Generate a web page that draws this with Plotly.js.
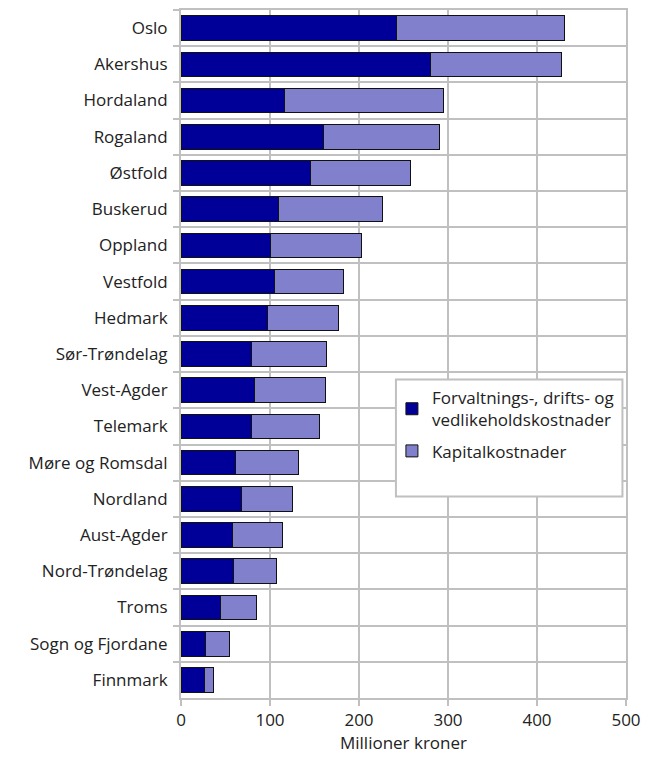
<!DOCTYPE html>
<html>
<head>
<meta charset="utf-8">
<script src="https://cdn.plot.ly/plotly-3.0.1.min.js"></script>
<style>html,body{margin:0;padding:0;background:#fff;}#chart{width:658px;height:777px;}</style>
</head>
<body>
<div id="chart"></div>
<script>
const fylker = ["Oslo","Akershus","Hordaland","Rogaland","Østfold","Buskerud","Oppland","Vestfold","Hedmark","Sør-Trøndelag","Vest-Agder","Telemark","Møre og Romsdal","Nordland","Aust-Agder","Nord-Trøndelag","Troms","Sogn og Fjordane","Finnmark"];
const forvaltning = [242,280,116,160,145,109,100,105,97,79,83,79,61,68,58,59,44,28,26];
const kapital = [189,148,179,131,113,117,103,78,80,84,79,77,71,57,56,48,41,26,11];
const seriesNames = ["Forvaltnings-, drifts- og<br>vedlikeholdskostnader","Kapitalkostnader"];
const xTicks = [0,100,200,300,400,500];

const grid = "#c0c0c0";
const font = {family: "Open Sans, Noto Sans, sans-serif", size: 17, color: "#222"};

const traces = [
  {type:"bar", orientation:"h", y: fylker, x: forvaltning, name: seriesNames[0], legendgroup:"a",
   marker:{color:"#000099", line:{color:"#111", width:1}}},
  {type:"bar", orientation:"h", y: fylker, x: kapital, name: seriesNames[1], legendgroup:"b",
   marker:{color:"#8080cc", line:{color:"#111", width:1}}}
];

const layout = {
  width:658, height:777,
  margin:{l:181, r:32, t:10, b:79, pad:0},
  paper_bgcolor:"#fff", plot_bgcolor:"#fff",
  font: font,
  barmode:"stack", bargap:0.32,
  showlegend:true,
  legend:{x:0.474, y:0.462, xanchor:"left", yanchor:"top", bgcolor:"rgba(0,0,0,0)", borderwidth:0,
          traceorder:"grouped", font:font, itemwidth:30, tracegroupgap:6},
  xaxis:{range:[0,500], tickvals:xTicks, ticktext:xTicks.map(String),
         showgrid:true, gridcolor:grid, gridwidth:2, zeroline:false,
         showline:true, linecolor:grid, linewidth:2, mirror:true,
         ticks:"outside", ticklen:6, tickcolor:grid, tickwidth:2,
         title:{text:"Millioner kroner", font:font, standoff:2}, fixedrange:true},
  yaxis:{type:"category", autorange:"reversed", tickson:"boundaries",
         showgrid:true, gridcolor:grid, gridwidth:2, zeroline:false,
         showline:true, linecolor:grid, linewidth:2, mirror:true,
         ticks:"outside", ticklen:6, tickcolor:grid, tickwidth:2, ticklabelstandoff:8},
  shapes:[{type:"rect", xref:"paper", yref:"paper", x0:0.483, x1:0.992, y0:0.293, y1:0.463,
           fillcolor:"#fff", line:{color:grid, width:2}, layer:"above"}]
};

Plotly.newPlot("chart", traces, layout, {displayModeBar:false, staticPlot:true});
</script>
</body>
</html>
